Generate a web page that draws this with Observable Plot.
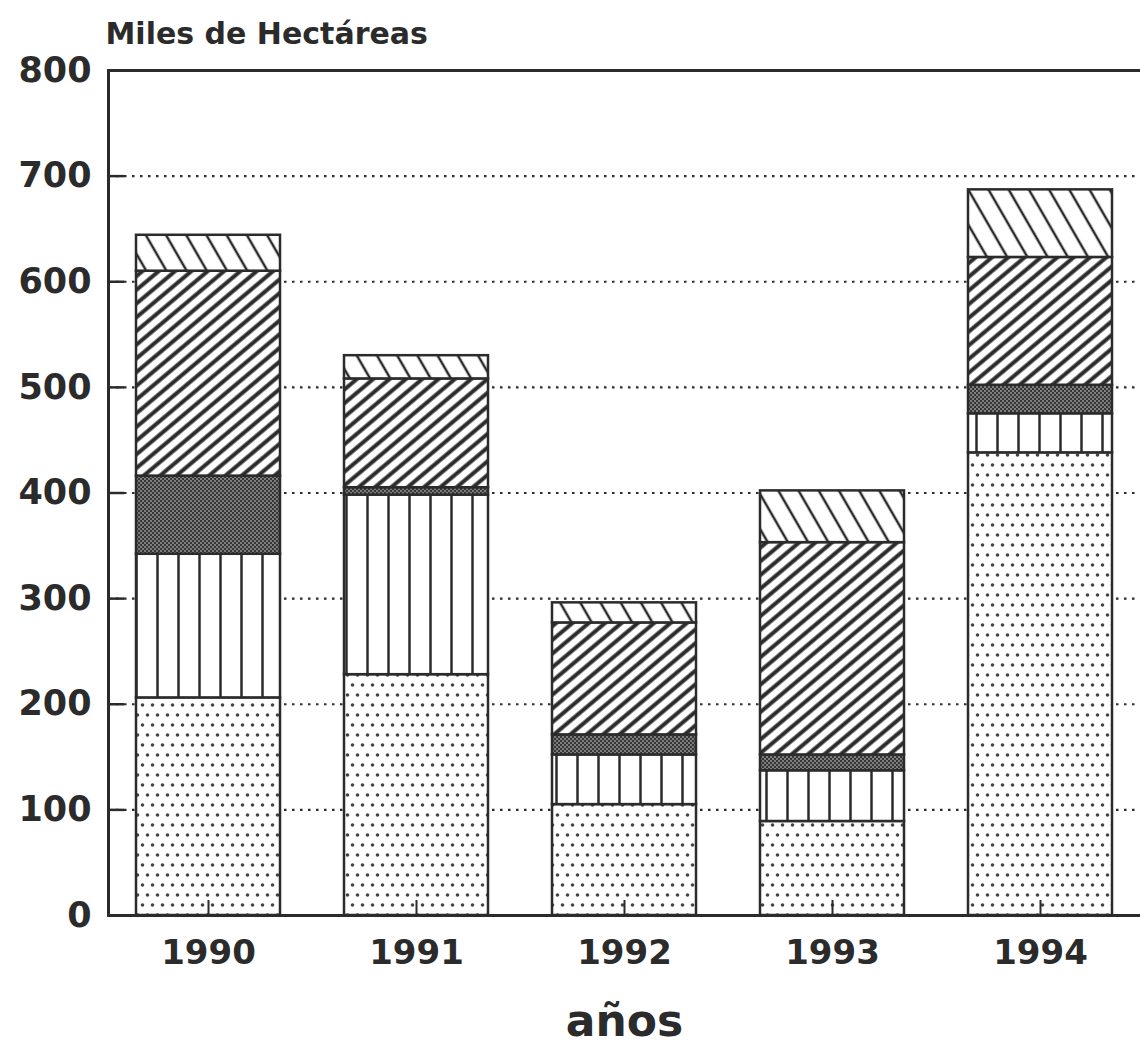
<!DOCTYPE html>
<html><head><meta charset="utf-8">
<script src="https://cdn.jsdelivr.net/npm/d3@7"></script>
<script src="https://cdn.jsdelivr.net/npm/@observablehq/plot@0.6"></script>
<style>body{margin:0;background:#fff}</style>
</head><body><div id="chart"></div>
<script>
// Data (miles de hectáreas)
const years = ["1990", "1991", "1992", "1993", "1994"];
const seriesNames = ["Serie 1", "Serie 2", "Serie 3", "Serie 4", "Serie 5"];
const serie1 = [206, 228, 105, 89, 438];   // punteado
const serie2 = [136, 170, 47, 48, 37];     // rayas verticales
const serie3 = [74, 7, 19, 15, 27];        // gris oscuro
const serie4 = [194, 103, 106, 201, 121];  // diagonal /
const serie5 = [34, 22, 19, 49, 64];       // diagonal \
const yTicks = [0, 100, 200, 300, 400, 500, 600, 700, 800];
const gridTicks = [100, 200, 300, 400, 500, 600, 700];
const patternIds = ["p-dots", "p-vert", "p-dark", "p-fdiag", "p-bdiag"];

const allSeries = [serie1, serie2, serie3, serie4, serie5];
const data = [];
seriesNames.forEach((s, i) => years.forEach((y, j) => data.push({year: y, series: s, value: allSeries[i][j]})));

const ink = "#2b2b2b";
const font = "'DejaVu Sans', sans-serif";
const W = 1140, ML = 108, MR = 0;

const svg = Plot.plot({
  width: W,
  height: 1051,
  marginLeft: ML,
  marginRight: MR,
  marginTop: 70,
  marginBottom: 136,
  style: {fontFamily: font, fontWeight: "bold", color: ink, background: "#fff"},
  x: {domain: years, paddingInner: 0.31, paddingOuter: 0.135, label: null},
  y: {domain: [0, 800], label: null},
  color: {type: "ordinal", domain: seriesNames, range: patternIds.map(id => `url(#${id})`)},
  marks: [
    Plot.gridY(gridTicks, {stroke: ink, strokeOpacity: 1, strokeWidth: 2.2, strokeDasharray: "2.5,5.5"}),
    Plot.ruleY(gridTicks, {stroke: ink, strokeWidth: 2.5, insetRight: W - ML - MR - 16}),
    Plot.barY(data, {x: "year", y: "value", fill: "series", stroke: ink, strokeWidth: 2.5, order: null}),
    Plot.ruleY([0, 800], {stroke: ink, strokeWidth: 3}),
    Plot.frame({anchor: "left", stroke: ink, strokeWidth: 3}),
    Plot.axisY(yTicks, {tickSize: 0, tickPadding: 17, fontSize: 35, fontWeight: "bold", letterSpacing: 2, fill: ink}),
    Plot.axisX({tickSize: 0, tickPadding: 24, fontSize: 34, fontWeight: "bold", fill: ink}),
    Plot.axisX({tickSize: -15, tickFormat: () => "", stroke: ink, strokeWidth: 2}),
    Plot.text(["Miles de Hectáreas"], {frameAnchor: "top-left", dx: -3, dy: -36, textAnchor: "start", lineAnchor: "middle", fontSize: 30, fontWeight: "bold", letterSpacing: 2.5, fill: ink}),
    Plot.text(["años"], {frameAnchor: "bottom", dy: 106, lineAnchor: "middle", fontSize: 44, fontWeight: "bold", fill: ink})
  ]
});

const defs = d3.select(svg).insert("defs", ":first-child");
// dots (staggered)
const pd = defs.append("pattern").attr("id", "p-dots").attr("patternUnits", "userSpaceOnUse").attr("width", 10).attr("height", 20);
pd.append("rect").attr("width", 10).attr("height", 20).attr("fill", "#fff");
pd.append("circle").attr("cx", 2.5).attr("cy", 5).attr("r", 1.8).attr("fill", "#444");
pd.append("circle").attr("cx", 7.5).attr("cy", 15).attr("r", 1.8).attr("fill", "#444");
// vertical lines
const pv = defs.append("pattern").attr("id", "p-vert").attr("patternUnits", "userSpaceOnUse").attr("width", 21).attr("height", 10);
pv.append("rect").attr("width", 21).attr("height", 10).attr("fill", "#fff");
pv.append("line").attr("x1", 10.5).attr("x2", 10.5).attr("y1", 0).attr("y2", 10).attr("stroke", ink).attr("stroke-width", 2.5);
// dark stipple
const pk = defs.append("pattern").attr("id", "p-dark").attr("patternUnits", "userSpaceOnUse").attr("width", 4).attr("height", 4);
pk.append("rect").attr("width", 4).attr("height", 4).attr("fill", "#7f7f7f");
pk.append("rect").attr("x", 0).attr("y", 0).attr("width", 2).attr("height", 2).attr("fill", "#353535");
pk.append("rect").attr("x", 2).attr("y", 2).attr("width", 2).attr("height", 2).attr("fill", "#353535");
// forward diagonal /
const pf = defs.append("pattern").attr("id", "p-fdiag").attr("patternUnits", "userSpaceOnUse").attr("width", 10.5).attr("height", 10.5).attr("patternTransform", "rotate(-40)");
pf.append("rect").attr("width", 10.5).attr("height", 10.5).attr("fill", "#fff");
pf.append("line").attr("x1", 0).attr("x2", 10.5).attr("y1", 5.25).attr("y2", 5.25).attr("stroke", ink).attr("stroke-width", 4);
// backward diagonal \
const pb = defs.append("pattern").attr("id", "p-bdiag").attr("patternUnits", "userSpaceOnUse").attr("width", 17.5).attr("height", 17.5).attr("patternTransform", "rotate(-30)");
pb.append("rect").attr("width", 17.5).attr("height", 17.5).attr("fill", "#fff");
pb.append("line").attr("x1", 8.75).attr("x2", 8.75).attr("y1", 0).attr("y2", 17.5).attr("stroke", ink).attr("stroke-width", 2.5);

document.getElementById("chart").appendChild(svg);
</script>
</body></html>
